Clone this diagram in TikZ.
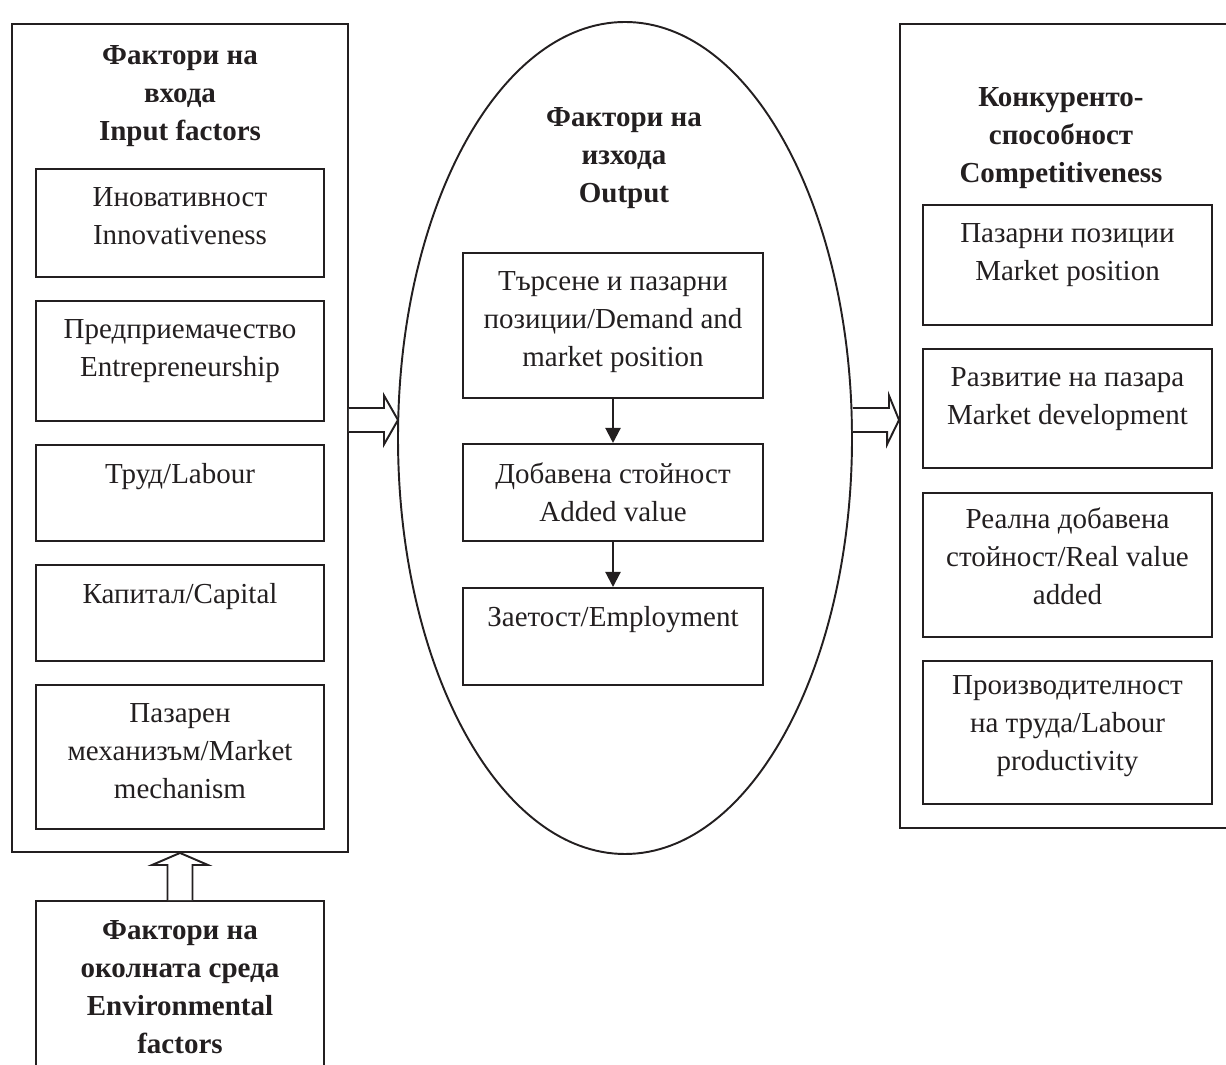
\documentclass[tikz,border=0pt]{standalone}
\usepackage{fontspec}
\setmainfont{Liberation Serif}
\usetikzlibrary{arrows.meta,positioning,calc,shapes.geometric}
\definecolor{ink}{HTML}{231F20}

\tikzset{
  frame/.style={draw=ink,line width=1.1pt,inner sep=0},
  box/.style={frame,anchor=north},
  txt/.style={font=\fontsize{16.5}{21.6}\selectfont,text=ink,align=center,inner sep=0,anchor=north},
  head/.style={txt,font=\fontsize{16.5}{21.6}\selectfont\bfseries},
  hollow/.style={draw=ink,line width=1.1pt,fill=white,line join=miter},
}

\begin{document}
\begin{tikzpicture}
  \clip (0,0) rectangle (24.52,21.28);

  % Input factors
  \node[frame,minimum width=6.72cm,minimum height=16.56cm] (input) at (3.60,12.52) {};
  \node[head] (inputh) at (3.60,20.37) {Фактори на\\входа\\Input factors};
  \foreach \n/\y/\h/\txt in {1/17.92/2.16cm/{Иновативност\\Innovativeness},
      2/15.28/2.40cm/{Предприемачество\\Entrepreneurship},
      3/12.40/1.92cm/{Труд/Labour},
      4/10.00/1.92cm/{Капитал/Capital},
      5/7.60/2.88cm/{Пазарен\\механизъм/Market\\mechanism}} {
    \node[box,minimum width=5.76cm,minimum height=\h] (in\n) at (3.60,\y) {};
    \node[txt] (intxt\n) at ([yshift=-0.39cm]in\n.north) {\txt};
  }

  % Environment
  \node[box,minimum width=5.76cm,minimum height=4.00cm] (env) at (3.60,3.28) {};
  \node[head] (envtxt) at (3.60,2.87) {Фактори на\\околната среда\\Environmental\\factors};

  % Output factors
  \node[frame,ellipse,minimum width=9.08cm,minimum height=16.64cm] (output) at (12.50,12.52) {};
  \node[head] (outputh) at (12.48,19.13) {Фактори на\\изхода\\Output};
  \foreach \n/\y/\h/\txt in {1/16.24/2.90cm/{Търсене и пазарни\\позиции/Demand and\\market position},
      2/12.42/1.94cm/{Добавена стойност\\Added value},
      3/9.54/1.94cm/{Заетост/Employment}} {
    \node[box,minimum width=6.00cm,minimum height=\h] (out\n) at (12.26,\y) {};
    \node[txt] (outtxt\n) at ([yshift=-0.39cm]out\n.north) {\txt};
  }
  \draw[ink,line width=1.2pt,-{Triangle[length=0.30cm,width=0.30cm]}] (out1.south) -- (out2.north);
  \draw[ink,line width=1.2pt,-{Triangle[length=0.30cm,width=0.30cm]}] (out2.south) -- (out3.north);

  % Competitiveness
  \node[frame,minimum width=6.72cm,minimum height=16.08cm] (comp) at (21.36,12.76) {};
  \node[head] (comph) at (21.22,19.53) {Конкуренто-\\способност\\Competitiveness};
  \foreach \n/\y/\h/\d/\txt in {1/17.20/2.40cm/0.39/{Пазарни позиции\\Market position},
      2/14.32/2.38cm/0.39/{Развитие на пазара\\Market development},
      3/11.44/2.88cm/0.31/{Реална добавена\\стойност/Real value\\added},
      4/8.08/2.86cm/0.31/{Производителност\\на труда/Labour\\productivity}} {
    \node[box,minimum width=5.78cm,minimum height=\h] (cp\n) at (21.35,\y) {};
    \node[txt] (cptxt\n) at ([yshift=-\d cm]cp\n.north) {\txt};
  }

  % Hollow arrows
  \draw[hollow] ($(env.north)+(-0.25,0)$) -- ++(0,0.70) -- ++(-0.31,0) -- (input.south)
    -- ($(env.north)+(0.56,0.70)$) -- ++(-0.31,0) -- ($(env.north)+(0.25,0)$);
  \coordinate (a1) at ($(input.east)+(0,0.36)$);
  \coordinate (a2) at (output.east |- a1);
  \draw[hollow] ($(a1)+(0,0.24)$) -- ++(0.70,0) -- ++(0,0.25) -- ($(a1)+(0.98,0)$)
    -- ++(-0.28,-0.49) -- ++(0,0.25) -- ($(a1)+(0,-0.24)$);
  \draw[hollow] ($(a2)+(0,0.24)$) -- ++(0.72,0) -- ++(0,0.25) -- (comp.west |- a2)
    -- ++(-0.24,-0.49) -- ++(0,0.25) -- ($(a2)+(0,-0.24)$);
\end{tikzpicture}
\end{document}
